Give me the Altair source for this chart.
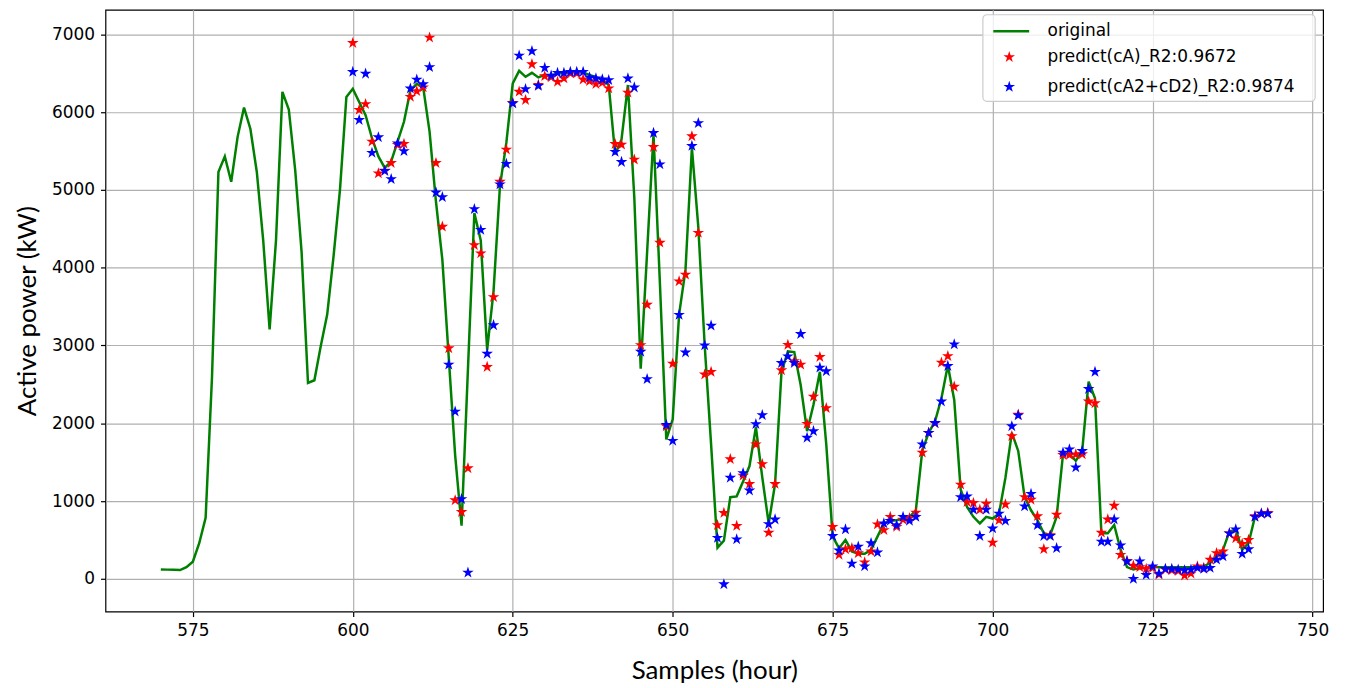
import altair as alt
import pandas as pd

# ---------------- data ----------------
orig_x = list(range(570, 744))
orig_y = [
    120, 118, 115, 112, 150, 220, 457, 784, 2600, 5231,          # 570-579
    5432, 5106, 5683, 6060, 5784, 5231, 4352, 3206, 4352, 6261,  # 580-589
    6035, 5256, 4201, 2518, 2553, 2995, 3397, 4151, 5005, 6195,  # 590-599
    6301, 6131, 5962, 5665, 5432, 5284, 5369, 5623, 5877, 6280,  # 600-609
    6364, 6322, 5750, 4850, 4101, 2844, 1588, 683, 2700, 4704,   # 610-619
    4352, 2945, 3700, 5050, 5608, 6370, 6532, 6455, 6506, 6447,  # 620-629
    6480, 6470, 6500, 6500, 6510, 6520, 6510, 6480, 6450, 6420,  # 630-639
    6350, 5460, 5650, 6350, 4900, 2703, 4200, 5712, 3800, 1792,  # 640-649
    2050, 3400, 3975, 5542, 4525, 3000, 1729, 400, 490, 1050,    # 650-659
    1060, 1250, 1450, 1950, 1305, 712, 1220, 2661, 2924, 2915,   # 660-669
    2492, 1898, 2237, 2661, 1729, 542, 394, 500, 352, 322,       # 670-679
    322, 373, 542, 712, 746, 754, 775, 797, 881, 1644,           # 680-689
    1877, 2025, 2322, 2746, 2300, 1150, 924, 797, 712, 797,      # 690-699
    775, 839, 1300, 1877, 1644, 1051, 881, 754, 585, 564,        # 700-709
    797, 1602, 1602, 1517, 1644, 2534, 2322, 585, 585, 691,      # 710-719
    373, 150, 119, 140, 140, 155, 150, 150, 150, 150,            # 720-729
    150, 150, 155, 160, 203, 288, 373, 606, 636, 373,            # 730-739
    458, 797, 839, 839,                                          # 740-743
]

pred_x = list(range(600, 744))
pred_ca = [
    6890, 6030, 6105, 5623, 5214, 5250, 5347, 5580, 5594, 6198,  # 600-609
    6270, 6320, 6960, 5347, 4528, 2965, 1010, 859, 1422, 4291,   # 610-619
    4186, 2724, 3623, 5106, 5520, 6120, 6264, 6157, 6617, 6352,  # 620-629
    6464, 6450, 6391, 6434, 6500, 6500, 6421, 6400, 6362, 6380,  # 630-639
    6306, 5591, 5583, 6251, 5391, 3005, 3525, 5553, 4322, 1962,  # 640-649
    2767, 3826, 3911, 5691, 4449, 2627, 2661, 691, 847, 1538,    # 650-659
    680, 1326, 1220, 1729, 1475, 593, 1220, 2682, 3008, 2800,    # 660-669
    2754, 1992, 2343, 2852, 2195, 669, 309, 380, 394, 330,       # 670-679
    212, 352, 700, 627, 797, 669, 760, 780, 852, 1623,           # 680-689
    1877, 2000, 2780, 2864, 2470, 1212, 987, 975, 890, 966,      # 690-699
    466, 754, 958, 1835, 2110, 1051, 1017, 805, 381, 560,        # 700-709
    826, 1593, 1593, 1600, 1602, 2280, 2258, 593, 763, 940,      # 710-719
    309, 230, 169, 150, 127, 140, 55, 120, 110, 100,             # 720-729
    42, 68, 161, 140, 246, 331, 352, 585, 521, 450,              # 730-739
    500, 805, 839, 847,                                          # 740-743
]
pred_ca2cd2 = [
    6518, 5900, 6495, 5478, 5678, 5244, 5140, 5600, 5500, 6305,  # 600-609
    6420, 6360, 6580, 4968, 4908, 2754, 2151, 1025, 80, 4754,    # 610-619
    4487, 2894, 3261, 5072, 5336, 6113, 6728, 6298, 6786, 6339,  # 620-629
    6570, 6470, 6506, 6506, 6519, 6519, 6519, 6447, 6434, 6421,  # 630-639
    6413, 5490, 5360, 6434, 6318, 2920, 2568, 5733, 5330, 1980,  # 640-649
    1775, 3394, 2910, 5566, 5860, 3002, 3255, 527, -70, 1300,    # 650-659
    508, 1360, 1136, 1990, 2105, 703, 763, 2775, 2860, 2775,     # 660-669
    3148, 1814, 1898, 2716, 2669, 551, 364, 636, 195, 415,       # 670-679
    161, 458, 339, 712, 746, 691, 797, 746, 797, 1729,           # 680-689
    1877, 2004, 2280, 2737, 3015, 1051, 1059, 890, 551, 890,     # 690-699
    648, 839, 746, 1962, 2102, 932, 1093, 691, 551, 551,         # 700-709
    394, 1623, 1665, 1432, 1644, 2441, 2661, 479, 479, 763,      # 710-719
    430, 225, 0, 225, 50, 161, 68, 127, 127, 119,                # 720-729
    110, 119, 140, 127, 140, 246, 288, 585, 636, 322,            # 730-739
    381, 797, 839, 839,                                          # 740-743
]

series_names = ["original", "predict(cA)_R2:0.9672", "predict(cA2+cD2)_R2:0.9874"]
series_colors = ["#008000", "#ff0000", "#0000ff"]
x_ticks = [575, 600, 625, 650, 675, 700, 725, 750]
y_ticks = [0, 1000, 2000, 3000, 4000, 5000, 6000, 7000]

# ---------------- tables ----------------
df_line = pd.DataFrame({"x": orig_x, "y": orig_y, "series": series_names[0]})
df_pts = pd.concat([
    pd.DataFrame({"x": pred_x, "y": pred_ca, "series": series_names[1]}),
    pd.DataFrame({"x": pred_x, "y": pred_ca2cd2, "series": series_names[2]}),
], ignore_index=True)
df_pts["order"] = range(len(df_pts))

STAR = ("M0,-1L0.2245,-0.309L0.951,-0.309L0.3633,0.118L0.588,0.809L0,0.382"
        "L-0.588,0.809L-0.3633,0.118L-0.951,-0.309L-0.2245,-0.309Z")
STAR_SIZE = 150

common_legend = dict(
    title=None,
    orient="none",
    labelFont="DejaVu Sans",
    labelFontSize=17,
    labelColor="#000000",
    labelLimit=400,
    padding=0,
    zindex=2,
)

line_legend = alt.Legend(
    legendX=891, legendY=2,
    symbolType="stroke", symbolSize=1300, symbolStrokeWidth=2.5,
    labelOffset=17,
    **common_legend,
)
star_legend = alt.Legend(
    legendX=900, legendY=39,
    symbolType=STAR, symbolSize=STAR_SIZE, symbolStrokeWidth=0,
    labelOffset=30, rowPadding=12,
    **common_legend,
)

x_enc = alt.X(
    "x:Q",
    scale=alt.Scale(domain=[561.35, 751.65], nice=False, zero=False),
    axis=alt.Axis(values=x_ticks, title="Samples (hour)", format="d"),
)
y_enc = alt.Y(
    "y:Q",
    scale=alt.Scale(domain=[-422, 7317], nice=False, zero=False),
    axis=alt.Axis(values=y_ticks, title="Active power (kW)", format="d"),
)

line = alt.Chart(df_line).mark_line(strokeWidth=2.5, clip=True).encode(
    x=x_enc,
    y=y_enc,
    stroke=alt.Stroke("series:N", scale=alt.Scale(domain=series_names[:1], range=series_colors[:1]),
                      legend=line_legend),
)

points = alt.Chart(df_pts).mark_point(
    shape=STAR, filled=True, size=STAR_SIZE, opacity=1, strokeWidth=0, clip=True
).encode(
    x=x_enc,
    y=y_enc,
    fill=alt.Fill("series:N", scale=alt.Scale(domain=series_names[1:], range=series_colors[1:]),
                  legend=star_legend),
    order=alt.Order("order:Q"),
)

legend_box = alt.Chart(pd.DataFrame({"k": [0]})).mark_rect(
    fill="#ffffff", fillOpacity=0.8, stroke="#cccccc", strokeWidth=1.2, cornerRadius=4
).encode(
    x=alt.value(882), x2=alt.value(1216), y=alt.value(5), y2=alt.value(92)
)

chart = alt.layer(line, points, legend_box).properties(
    width=1224,
    height=605,
    autosize=alt.AutoSizeParams(type="none"),
    padding={"left": 98, "top": 0, "right": 20, "bottom": 75},
).configure_view(
    stroke="#000000", strokeWidth=1.2
).configure_axis(
    grid=True,
    gridColor="#b0b0b0",
    gridWidth=1.2,
    domain=False,
    tickColor="#000000",
    tickSize=5,
    tickWidth=1.2,
    labelFont="DejaVu Sans",
    labelFontSize=17,
    labelColor="#000000",
    titleFont="Lato",
    titleFontSize=26,
    titleFontWeight="normal",
    titleColor="#000000",
).configure_axisX(
    labelPadding=6, titlePadding=19
).configure_axisY(
    labelPadding=6, titlePadding=11
)

chart.save("out.html", embed_options={"renderer": "svg", "actions": False})
